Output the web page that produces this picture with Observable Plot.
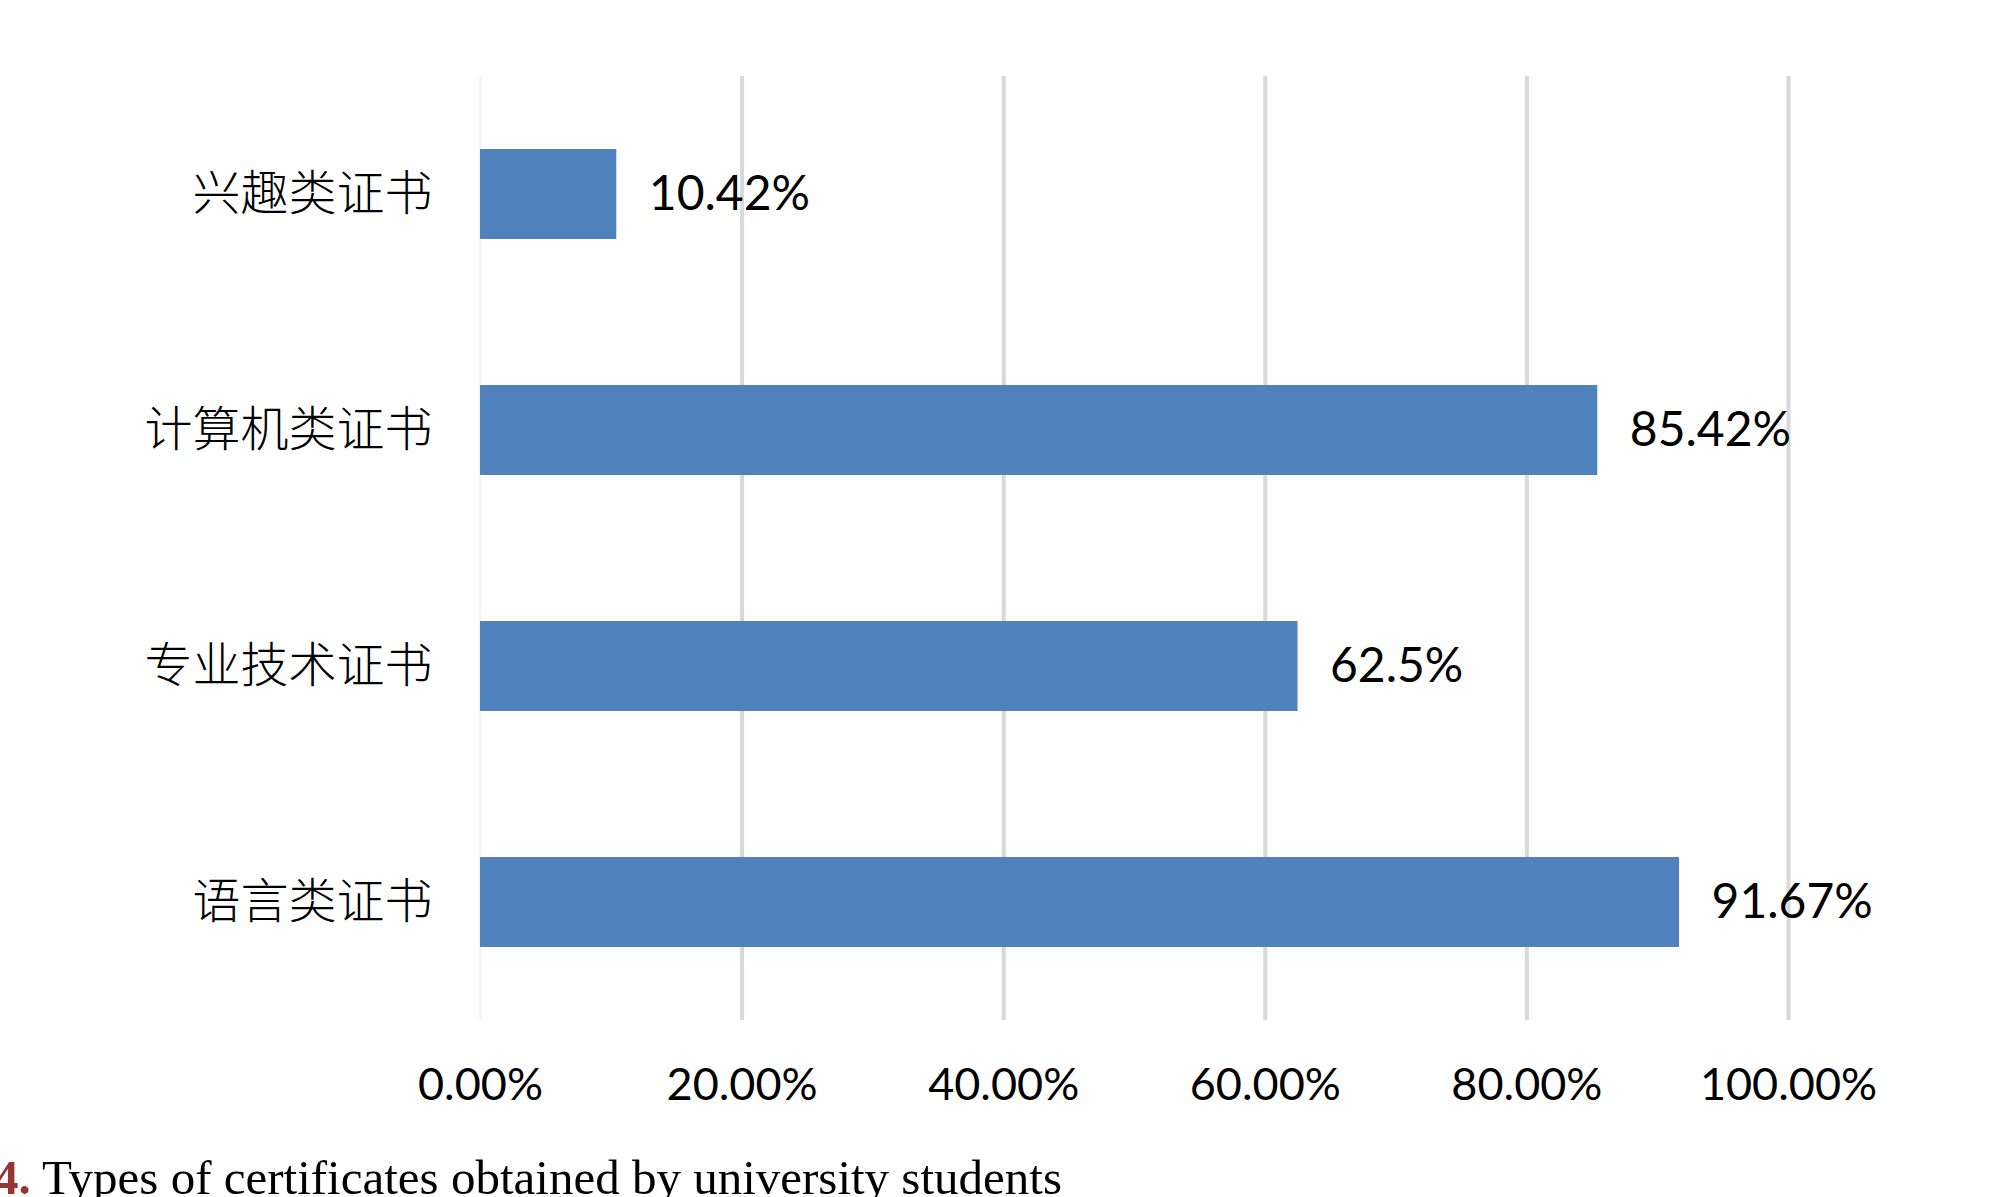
<!DOCTYPE html>
<html>
<head>
<meta charset="utf-8">
<script src="https://cdn.jsdelivr.net/npm/d3@7"></script>
<script src="https://cdn.jsdelivr.net/npm/@observablehq/plot@0.6"></script>
<style>
  html, body { margin: 0; padding: 0; background: #fff; overflow: hidden; }
  #wrap { position: relative; width: 2000px; height: 1197px; overflow: hidden; }
  #caption { position: absolute; left: -6px; top: 1153px; font-family: "Liberation Serif", "Times New Roman", serif; font-size: 49px; line-height: 49px; color: #000; white-space: nowrap; }
  #caption b { color: #943634; }
</style>
</head>
<body>
<div id="wrap">
  <div id="chart"></div>
  <div id="caption"><b>4.</b> Types of certificates obtained by university students</div>
</div>
<script>
const categories = ["兴趣类证书", "计算机类证书", "专业技术证书", "语言类证书"];
const values = [0.1042, 0.8542, 0.625, 0.9167];
const valueLabels = ["10.42%", "85.42%", "62.5%", "91.67%"];
const xTicks = [0, 0.2, 0.4, 0.6, 0.8, 1.0];

const data = categories.map((c, i) => ({category: c, value: values[i], label: valueLabels[i]}));

const chart = Plot.plot({
  width: 2000,
  height: 1153,
  marginTop: 76,
  marginBottom: 133,
  marginLeft: 480,
  marginRight: 212,
  x: {domain: [0, 1]},
  y: {domain: categories, paddingInner: 0.62, paddingOuter: 0.31},
  style: {background: "white", color: "#000"},
  marks: [
    Plot.ruleX(xTicks.slice(1), {stroke: "#d9d9d9", strokeWidth: 4}),
    Plot.ruleX([0], {stroke: "#f6f6f6", strokeWidth: 3}),
    Plot.barX(data, {x: "value", y: "category", fill: "#4f81bd"}),
    Plot.text(data, {x: "value", y: "category", text: "label", dx: 32, textAnchor: "start", fontSize: 48, fontFamily: "Lato", fill: "#000"}),
    Plot.axisX({ticks: xTicks, tickFormat: d3.format(".2%"), tickSize: 0, tickPadding: 48, fontSize: 45, fontFamily: "Lato", label: null}),
    Plot.axisY({tickSize: 0, tickPadding: 48, fontSize: 48, fontFamily: "Noto Sans CJK SC", fontWeight: 300, label: null})
  ]
});
document.getElementById("chart").appendChild(chart);
</script>
</body>
</html>
